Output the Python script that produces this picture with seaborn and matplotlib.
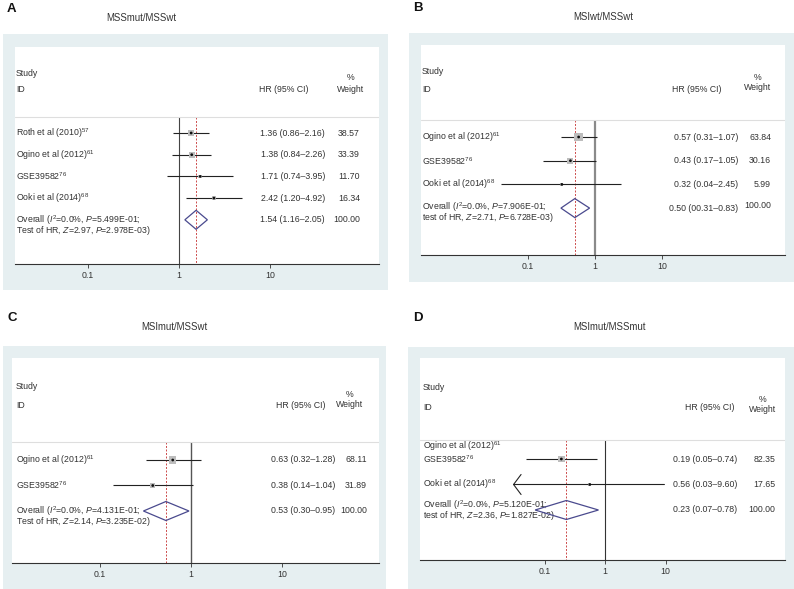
import matplotlib
matplotlib.use("Agg")
import matplotlib.pyplot as plt
from matplotlib.patches import Rectangle, Polygon
import numpy as np
import seaborn as sns

# ---- data -------------------------------------------------------------
# A: MSSmut/MSSwt
a_studies = ["Roth et al (2010)$^{57}$", "Ogino et al (2012)$^{61}$",
             "GSE39582$^{76}$", "Ooki et al (2014)$^{68}$"]
a_hr = [1.36, 1.38, 1.71, 2.42]
a_lo = [0.86, 0.84, 0.74, 1.20]
a_hi = [2.16, 2.26, 3.95, 4.92]
a_weight = [38.57, 33.39, 11.70, 16.34]
a_overall = [1.54, 1.16, 2.05]
a_hr_text = ["1.36 (0.86\u20132.16)", "1.38 (0.84\u20132.26)",
             "1.71 (0.74\u20133.95)", "2.42 (1.20\u20134.92)"]
a_wt_text = ["38.57", "33.39", "11.70", "16.34"]
a_ov_text = ["1.54 (1.16\u20132.05)", "100.00"]
a_ov_lines = ["Overall ($I^2$=0.0%, $P$=5.499E-01;",
              "Test of HR, $Z$=2.97, $P$=2.978E-03)"]

# B: MSIwt/MSSwt
b_studies = ["Ogino et al (2012)$^{61}$", "GSE39582$^{76}$", "Ooki et al (2014)$^{68}$"]
b_hr = [0.57, 0.43, 0.32]
b_lo = [0.31, 0.17, 0.04]
b_hi = [1.07, 1.05, 2.45]
b_weight = [63.84, 30.16, 5.99]
b_overall = [0.50, 0.31, 0.83]
b_hr_text = ["0.57 (0.31\u20131.07)", "0.43 (0.17\u20131.05)", "0.32 (0.04\u20132.45)"]
b_wt_text = ["63.84", "30.16", "5.99"]
b_ov_text = ["0.50 (00.31\u20130.83)", "100.00"]
b_ov_lines = ["Overall ($I^2$=0.0%, $P$=7.906E-01;",
              "test of HR, $Z$=2.71, $P$=6.728E-03)"]

# C: MSImut/MSSwt
c_studies = ["Ogino et al (2012)$^{61}$", "GSE39582$^{76}$"]
c_hr = [0.63, 0.38]
c_lo = [0.32, 0.14]
c_hi = [1.28, 1.04]
c_weight = [68.11, 31.89]
c_overall = [0.53, 0.30, 0.95]
c_hr_text = ["0.63 (0.32\u20131.28)", "0.38 (0.14\u20131.04)"]
c_wt_text = ["68.11", "31.89"]
c_ov_text = ["0.53 (0.30\u20130.95)", "100.00"]
c_ov_lines = ["Overall ($I^2$=0.0%, $P$=4.131E-01;",
              "Test of HR, $Z$=2.14, $P$=3.235E-02)"]

# D: MSImut/MSSmut
d_studies = ["Ogino et al (2012)$^{61}$", "GSE39582$^{76}$", "Ooki et al (2014)$^{68}$"]
d_hr = [0.19, 0.56]
d_lo = [0.05, 0.03]
d_hi = [0.74, 9.60]
d_weight = [82.35, 17.65]
d_overall = [0.23, 0.07, 0.78]
d_hr_text = ["0.19 (0.05\u20130.74)", "0.56 (0.03\u20139.60)"]
d_wt_text = ["82.35", "17.65"]
d_ov_text = ["0.23 (0.07\u20130.78)", "100.00"]
d_ov_lines = ["Overall ($I^2$=0.0%, $P$=5.120E-01;",
              "test of HR, $Z$=2.36, $P$=1.827E-02)"]

tick_vals = [0.1, 1, 10]
tick_labels = ["0.1", "1", "10"]

# ---- style ------------------------------------------------------------
sns.set_theme(style="white")
plt.rcParams['font.family'] = ['Liberation Sans', 'DejaVu Sans']
plt.rcParams['mathtext.fontset'] = 'custom'
plt.rcParams['mathtext.rm'] = 'Liberation Sans'
plt.rcParams['mathtext.it'] = 'Liberation Sans:italic'
plt.rcParams['mathtext.bf'] = 'Liberation Sans:bold'

W, H = 794, 589
TXT = '#333333'
FS = 6.3
BG = '#e6eff1'

fig = plt.figure(figsize=(W / 100, H / 100), dpi=100)
fig.patch.set_facecolor('white')


def fx(px):
    return px / W


def fy(py):
    return 1 - py / H


panels = [
    dict(letter='A', letter_xy=(7, 9), title='MSSmut/MSSwt', title_xy=(141, 18),
         studies=a_studies, label_rows=[0, 1, 2, 3], rows=[0, 1, 2, 3],
         hr=a_hr, lo=a_lo, hi=a_hi, weight=a_weight, arrow=[False] * 4,
         overall=a_overall, hr_text=a_hr_text, wt_text=a_wt_text,
         ov_text=a_ov_text, ov_lines=a_ov_lines, ov_row=4,
         outer=(3, 34, 388, 290), white=(15, 47, 379, 264), one=179, dec=91,
         divider=117, row0=133, step=21.7,
         head_y=(73, 89, 78, 89), label_x=16, hr_head_x=284, pct_x=351,
         hr_right=325, wt_right=360, box_k=1.0, ov_dy=0, wt_dy=0,
         null_c='#444444', null_lw=0.8),
    dict(letter='B', letter_xy=(413, 8), title='MSIwt/MSSwt', title_xy=(603, 17),
         studies=b_studies, label_rows=[0, 1, 2], rows=[0, 1, 2],
         hr=b_hr, lo=b_lo, hi=b_hi, weight=b_weight, arrow=[False] * 3,
         overall=b_overall, hr_text=b_hr_text, wt_text=b_wt_text,
         ov_text=b_ov_text, ov_lines=b_ov_lines, ov_row=3,
         outer=(409, 33, 794, 282), white=(421, 45, 785, 255), one=595, dec=67,
         divider=120, row0=137, step=23.7,
         head_y=(72, 89, 77, 87), label_x=422, hr_head_x=697, pct_x=758,
         hr_right=738, wt_right=771, box_k=1.1, ov_dy=-1, wt_dy=-3,
         null_c='#8a8a8a', null_lw=1.6),
    dict(letter='C', letter_xy=(7, 318), title='MSImut/MSSwt', title_xy=(174, 327),
         studies=c_studies, label_rows=[0, 1], rows=[0, 1],
         hr=c_hr, lo=c_lo, hi=c_hi, weight=c_weight, arrow=[False] * 2,
         overall=c_overall, hr_text=c_hr_text, wt_text=c_wt_text,
         ov_text=c_ov_text, ov_lines=c_ov_lines, ov_row=2,
         outer=(3, 346, 386, 589), white=(12, 358, 379, 563), one=191, dec=91,
         divider=442, row0=460, step=25.5,
         head_y=(387, 406, 395, 405), label_x=16, hr_head_x=301, pct_x=350,
         hr_right=335, wt_right=367, box_k=0.85, ov_dy=0, wt_dy=0,
         null_c='#555555', null_lw=1.0),
    dict(letter='D', letter_xy=(413, 318), title='MSImut/MSSmut', title_xy=(609, 327),
         studies=d_studies, label_rows=[-0.5, 0, 1], rows=[0, 1],
         hr=d_hr, lo=d_lo, hi=d_hi, weight=d_weight, arrow=[False, True],
         overall=d_overall, hr_text=d_hr_text, wt_text=d_wt_text,
         ov_text=d_ov_text, ov_lines=d_ov_lines, ov_row=2,
         outer=(408, 347, 794, 589), white=(420, 358, 785, 560), one=605, dec=60.5,
         divider=440, row0=459, step=25.5,
         head_y=(387, 408, 399, 410), label_x=423, hr_head_x=710, pct_x=763,
         hr_right=737, wt_right=775, box_k=0.75, ov_dy=-5, wt_dy=0,
         null_c='#333333', null_lw=0.8),
]


def draw_panel(p):
    ox0, oy0, ox1, oy1 = p['outer']
    fig.add_artist(Rectangle((fx(ox0), fy(oy1)), fx(ox1) - fx(ox0), fy(oy0) - fy(oy1),
                             transform=fig.transFigure, facecolor=BG,
                             edgecolor='none', zorder=-5))
    fig.text(fx(p['letter_xy'][0]), fy(p['letter_xy'][1]), p['letter'],
             fontsize=9.5, fontweight='bold', ha='left', va='center', color='#111111')
    fig.text(fx(p['title_xy'][0]), fy(p['title_xy'][1]), p['title'],
             fontsize=6.9, ha='center', va='center', color=TXT)

    x0, y0, x1, y1 = p['white']
    ax = fig.add_axes([fx(x0), fy(y1), fx(x1) - fx(x0), fy(y0) - fy(y1)])
    ax.set_facecolor('white')
    ax.set_xscale('log')

    def tox(px):
        return 10 ** ((px - p['one']) / p['dec'])

    ax.set_xlim(tox(x0), tox(x1))
    ax.set_ylim(y1, y0)

    def row_y(r):
        return p['row0'] + r * p['step']

    # header
    sy, iy, py, wy = p['head_y']
    ax.text(tox(p['label_x']), sy, 'Study', fontsize=FS, ha='left', va='center', color=TXT)
    ax.text(tox(p['label_x']), iy, 'ID', fontsize=FS, ha='left', va='center', color=TXT)
    ax.text(tox(p['hr_head_x']), iy, 'HR (95% CI)', fontsize=FS, ha='center', va='center', color=TXT)
    ax.text(tox(p['pct_x']), py, '%', fontsize=FS, ha='center', va='center', color=TXT)
    ax.text(tox(p['pct_x']), wy, 'Weight', fontsize=FS, ha='center', va='center', color=TXT)
    ax.axhline(p['divider'], color='#dedede', lw=0.8)

    # reference lines
    est, olo, ohi = p['overall']
    ax.vlines(1, p['divider'], y1, color=p['null_c'], lw=p['null_lw'], zorder=1)
    ax.vlines(est, p['divider'], y1, color='#cc4b4b', lw=0.7, linestyles=(0, (2, 1.6)), zorder=1)

    # study labels
    for lab, r in zip(p['studies'], p['label_rows']):
        ax.text(tox(p['label_x']), row_y(r), lab, fontsize=FS, ha='left', va='center', color=TXT)

    ys = [row_y(r) for r in p['rows']]
    for lo, hi, y, arr in zip(p['lo'], p['hi'], ys, p['arrow']):
        if arr:
            ax.annotate('', xy=(lo, y), xytext=(hi, y),
                        arrowprops=dict(arrowstyle='->,head_length=0.45,head_width=0.6',
                                        color='#222222', lw=0.8, shrinkA=0, shrinkB=0))
        else:
            ax.hlines(y, lo, hi, color='#222222', lw=0.8, zorder=2)

    sizes = [(p['box_k'] * np.sqrt(w) * 0.72) ** 2 for w in p['weight']]
    sns.scatterplot(x=p['hr'], y=ys, s=sizes, marker='s', color='#bdbdbd',
                    edgecolor='none', ax=ax, legend=False, zorder=3)
    sns.scatterplot(x=p['hr'], y=ys, s=4, marker='o', color='#111111',
                    edgecolor='none', ax=ax, legend=False, zorder=4)

    for t, w, y in zip(p['hr_text'], p['wt_text'], ys):
        ax.text(tox(p['hr_right']), y, t, fontsize=FS, ha='right', va='center', color=TXT)
        ax.text(tox(p['wt_right']), y, w, fontsize=FS, ha='right', va='center', color=TXT)

    # overall
    yc = row_y(p['ov_row'])
    hh = 9.5
    ax.add_patch(Polygon([(olo, yc), (est, yc - hh), (ohi, yc), (est, yc + hh)], closed=True,
                         facecolor='none', edgecolor='#4a4a8e', lw=0.9, zorder=5))
    ly = yc + p['ov_dy']
    ax.text(tox(p['label_x']), ly, p['ov_lines'][0], fontsize=FS, ha='left',
            va='center', color=TXT)
    ax.text(tox(p['label_x']), ly + 10.5, p['ov_lines'][1], fontsize=FS, ha='left',
            va='center', color=TXT)
    ax.text(tox(p['hr_right']), yc, p['ov_text'][0], fontsize=FS, ha='right', va='center', color=TXT)
    ax.text(tox(p['wt_right']), yc + p['wt_dy'], p['ov_text'][1], fontsize=FS, ha='right', va='center', color=TXT)

    # axis
    ax.set_xticks(tick_vals)
    ax.set_xticklabels(tick_labels)
    ax.minorticks_off()
    ax.set_yticks([])
    ax.set_xlabel('')
    ax.set_ylabel('')
    ax.tick_params(axis='x', bottom=True, length=3, width=0.6, colors=TXT,
                   labelsize=FS, pad=2, direction='out')
    for s in ['top', 'left', 'right']:
        ax.spines[s].set_visible(False)
    ax.spines['bottom'].set_color('#333333')
    ax.spines['bottom'].set_linewidth(0.8)


for p in panels:
    draw_panel(p)

fig.savefig('out.png', dpi=100)
